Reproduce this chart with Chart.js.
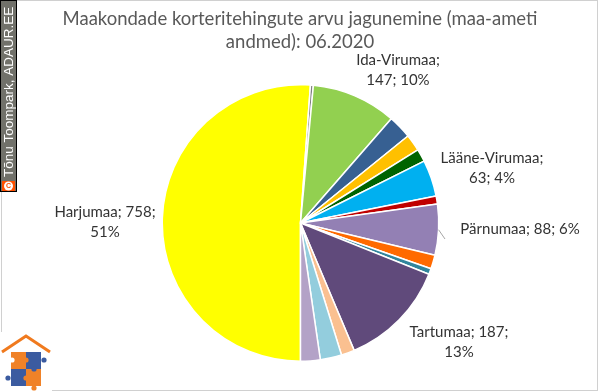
<!DOCTYPE html>
<html><head><meta charset="utf-8">
<script src="https://cdn.jsdelivr.net/npm/chart.js@4/dist/chart.umd.min.js"></script>
<style>html,body{margin:0;padding:0;background:#fff;overflow:hidden}canvas{display:block}</style>
</head><body>
<canvas id="c" width="600" height="392"></canvas>
<script>
const counties = ['Harjumaa','Hiiumaa','Ida-Virumaa','Jõgevamaa','Järvamaa','Läänemaa','Lääne-Virumaa','Põlvamaa','Pärnumaa','Raplamaa','Saaremaa','Tartumaa','Valgamaa','Viljandimaa','Võrumaa'];
const deals = [758,5,147,41,29,22,63,14,88,24,10,187,23,37,34];
const sliceColors = ['#FFFF00','#7F7F7F','#92D050','#376092','#FFC000','#006400','#00B0F0','#C00000','#9380B4','#FF6A00','#31859C','#604A7B','#FAC090','#93CDDD','#B3A2C7'];
const titleLines = ['Maakondade korteritehingute arvu jagunemine (maa-ameti','andmed): 06.2020'];
const watermark = 'Tõnu Toompark, ADAUR.EE';

const total = deals.reduce((a,b)=>a+b,0);
const pct = i => Math.round(deals[i]/total*100) + '%';
const idx = n => counties.indexOf(n);

// label layouts (text lines built from data; positions are styling)
const labelDefs = [
  {name:'Ida-Virumaa', lines: i=>[counties[i]+';', deals[i]+'; '+pct(i)], x:398, y:60},
  {name:'Lääne-Virumaa', lines: i=>[counties[i]+';', deals[i]+'; '+pct(i)], x:492, y:158},
  {name:'Pärnumaa', lines: i=>[counties[i]+'; '+deals[i]+'; '+pct(i)], x:520, y:229, leader:[445,239]},
  {name:'Tartumaa', lines: i=>[counties[i]+'; '+deals[i]+';', pct(i)], x:459, y:332},
  {name:'Harjumaa', lines: i=>[counties[i]+'; '+deals[i]+';', pct(i)], x:105, y:212}
];

const decor = {
  id:'decor',
  beforeDraw(chart){
    const ctx = chart.ctx;
    ctx.save();
    ctx.fillStyle='#fff'; ctx.fillRect(0,0,600,392);
    ctx.strokeStyle='#D0D0D0'; ctx.lineWidth=1;
    ctx.strokeRect(1.5,0.5,596,390);
    ctx.restore();
  },
  afterDraw(chart){
    const ctx = chart.ctx;
    ctx.save();
    // title
    ctx.fillStyle='#595959';
    ctx.font='18.5px Lato';
    ctx.textAlign='center'; ctx.textBaseline='middle';
    ctx.fillText(titleLines[0],300,19);
    ctx.fillText(titleLines[1],300,42);
    // labels
    const meta = chart.getDatasetMeta(0);
    ctx.font='15px Lato';
    ctx.fillStyle='#333333';
    labelDefs.forEach(d=>{
      const i = idx(d.name);
      const ls = d.lines(i);
      ls.forEach((t,k)=>ctx.fillText(t,d.x,d.y+k*20));
      if(d.leader){
        const arc = meta.data[i];
        const mid = (arc.startAngle+arc.endAngle)/2;
        const sx = arc.x + Math.cos(mid)*arc.outerRadius;
        const sy = arc.y + Math.sin(mid)*arc.outerRadius;
        ctx.strokeStyle='#A6A6A6'; ctx.lineWidth=1;
        ctx.beginPath(); ctx.moveTo(sx,sy); ctx.lineTo(d.leader[0],d.leader[1]); ctx.stroke();
      }
    });
    // watermark
    ctx.fillStyle='#71716A';
    ctx.fillRect(0.5,0.5,16,191);
    ctx.strokeStyle='#000'; ctx.lineWidth=1;
    ctx.strokeRect(0.5,0.5,16,191);
    ctx.fillStyle='#FF5000';
    ctx.fillRect(2,181,13,10);
    ctx.fillStyle='#fff';
    ctx.beginPath(); ctx.arc(8.5,186,4.5,0,Math.PI*2); ctx.fill();
    ctx.fillStyle='#FF5000'; ctx.font='bold 7px "Liberation Sans"';
    ctx.fillText('C',8.5,186.5);
    ctx.save();
    ctx.translate(9,177); ctx.rotate(-Math.PI/2);
    ctx.fillStyle='#fff'; ctx.font='13.5px "Liberation Sans"';
    ctx.textAlign='left'; ctx.textBaseline='middle';
    ctx.fillText(watermark,0,0.5);
    ctx.restore();
    // logo
    ctx.fillStyle='#fff'; ctx.fillRect(0,332,52,60);
    ctx.strokeStyle='#F07A1E'; ctx.lineWidth=3; ctx.lineJoin='miter';
    ctx.beginPath(); ctx.moveTo(2,352); ctx.lineTo(26,336); ctx.lineTo(50,352); ctx.stroke();
    const org='#F08228', blu='#3B5BA0';
    ctx.fillStyle=org; ctx.fillRect(11,352,15,17);
    ctx.fillStyle=blu; ctx.fillRect(26,352,15,17);
    ctx.fillStyle=blu; ctx.fillRect(11,369,15,17);
    ctx.fillStyle=org; ctx.fillRect(26,369,15,17);
    const knob=(x,y,c)=>{ctx.fillStyle=c;ctx.beginPath();ctx.arc(x,y,2.6,0,Math.PI*2);ctx.fill();};
    knob(26,360,org); knob(44,360,blu); knob(8,378,blu); knob(26,378,org); knob(34,388,org); knob(12,360,'#fff'); knob(34,369,blu);
    ctx.restore();
  }
};

new Chart(document.getElementById('c'),{
  type:'pie',
  data:{labels:counties,datasets:[{data:deals,backgroundColor:sliceColors,borderColor:'#ffffff',borderWidth:1.5}]},
  options:{
    responsive:false, animation:false, devicePixelRatio:1,
    rotation:180,
    layout:{padding:{top:84,bottom:30,left:100,right:99}},
    plugins:{legend:{display:false},tooltip:{enabled:false}}
  },
  plugins:[decor]
});
</script>
</body></html>
